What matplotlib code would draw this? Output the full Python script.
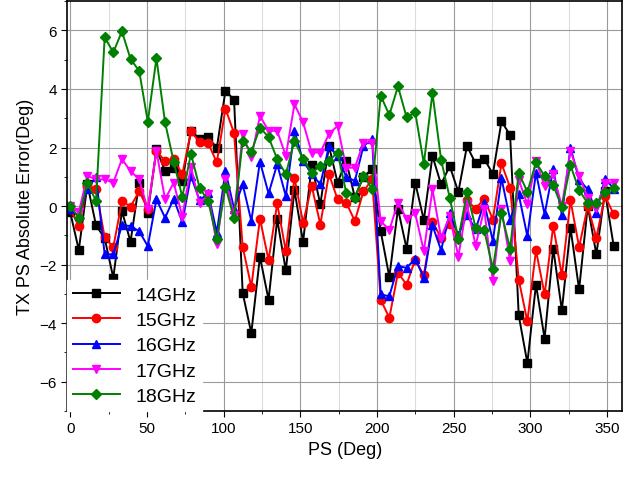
import numpy as np
import matplotlib
matplotlib.use("Agg")
import matplotlib.pyplot as plt
from matplotlib.ticker import MultipleLocator

plt.rcParams['font.family'] = ['Liberation Sans', 'DejaVu Sans']

# phase states, 64 steps of 5.625 deg
ps_deg = [i * 5.625 for i in range(64)]

err_14 = [-0.2, -1.5, 0.74, -0.66, -1.1, -2.45, -0.17, -1.22, 0.8, -0.23,
          1.94, 1.2, 1.3, 0.86, 2.57, 2.3, 2.36, 1.98, 3.94, 3.63,
          -2.97, -4.34, -1.73, -3.2, -0.45, -2.2, 0.55, -1.23, 1.4, 0.06,
          2.05, 0.8, 1.54, 0.3, 1.0, 1.26, -0.86, -2.42, -0.09, -1.45,
          0.8, -0.48, 1.71, 0.74, 1.37, 0.48, 2.05, 1.46, 1.62, 1.09,
          2.89, 2.43, -3.73, -5.36, -2.68, -4.53, -1.45, -3.56, -0.74, -2.85,
          0.0, -1.65, 0.5, -1.35]
err_15 = [-0.1, -0.68, 0.7, 0.57, -1.07, -1.41, 0.17, -0.02, 0.51, -0.1,
          1.88, 1.54, 1.6, 1.09, 2.55, 2.19, 2.15, 1.49, 3.33, 2.49,
          -1.39, -2.76, -0.43, -1.85, 0.09, -1.54, 0.97, -0.57, 0.69, -0.63,
          1.09, 0.23, 0.12, -0.51, 0.5, 0.91, -3.2, -3.82, -2.28, -2.68,
          -1.83, -2.37, -0.55, -1.08, -0.6, -1.1, 0.2, -0.09, 0.25, -0.46,
          1.46, 0.63, -2.51, -3.94, -1.51, -3.02, -0.68, -2.37, 0.2, -1.4,
          0.0, -1.08, 0.35, -0.28]
err_16 = [-0.1, -0.34, 0.6, 1.0, -1.65, -1.65, -0.66, -0.68, -0.86, -1.37,
          0.23, -0.4, 0.25, -0.55, 1.03, 0.2, 0.43, -0.91, 1.2, -0.09,
          0.74, -0.51, 1.52, 0.43, 1.43, 0.34, 2.57, 1.54, 1.1, 0.74,
          2.05, 1.7, 1.0, 0.86, 2.05, 2.28, -3.02, -3.08, -2.05, -2.11,
          -1.8, -2.45, -0.66, -1.51, -0.25, -1.0, -0.3, -0.8, 0.12, -1.2,
          0.95, -0.46, 0.4, -1.03, 1.14, -0.28, 1.26, -0.3, 2.0, 0.9,
          0.57, -0.23, 0.94, 0.6]
err_17 = [0.0, -0.2, 1.03, 0.91, 0.91, 0.8, 1.6, 1.2, 0.91, -0.11,
          1.88, 0.23, 0.8, -0.36, 1.35, 0.09, 0.4, -1.31, 0.91, -0.3,
          2.46, 1.66, 3.08, 2.57, 2.57, 1.71, 3.48, 2.86, 1.83, 1.83,
          2.46, 2.74, 1.31, 1.31, 2.17, 2.17, -0.51, -0.82, 0.12, -0.43,
          -0.25, -1.54, 0.57, -1.08, -0.34, -1.73, 0.06, -1.35, -0.1, -2.57,
          -0.1, -1.88, 0.9, 0.06, 1.54, 0.69, 1.09, 0.0, 1.88, 1.03,
          0.29, -0.05, 0.8, 0.8]
err_18 = [0.0, -0.4, 0.8, 0.17, 5.77, 5.25, 5.97, 5.02, 4.62, 2.88,
          5.05, 2.86, 1.52, 0.31, 1.79, 0.63, 0.17, -1.12, 0.66, -0.42,
          2.23, 1.85, 2.68, 2.36, 1.6, 1.09, 2.23, 1.6, 1.14, 1.37,
          1.54, 1.83, 0.46, 0.29, 1.03, 0.6, 3.77, 3.11, 4.09, 3.03,
          3.2, 1.45, 3.86, 1.58, 0.29, -1.13, 0.47, -0.74, -0.82, -2.14,
          -0.25, -1.45, 1.14, 0.48, 1.49, 1.03, 0.71, -0.03, 1.39, 0.55,
          0.09, 0.09, 0.48, 0.63]

series = [
    ('14GHz', err_14, 'black', 's'),
    ('15GHz', err_15, 'red', 'o'),
    ('16GHz', err_16, 'blue', '^'),
    ('17GHz', err_17, 'magenta', 'v'),
    ('18GHz', err_18, 'green', 'D'),
]

fig = plt.figure(figsize=(6.33, 4.81), dpi=100)
ax = fig.add_axes([0.106, 0.1435, 0.877, 0.852])

for label, vals, color, marker in series:
    ms = 5.5 if marker == 'D' else 6
    ax.plot(ps_deg, vals, color=color, marker=marker, markersize=ms,
            linewidth=1.4, label=label)

ax.set_xlim(-2, 360)
ax.set_ylim(-7, 7)
ax.xaxis.set_major_locator(MultipleLocator(50))
ax.xaxis.set_minor_locator(MultipleLocator(25))
ax.yaxis.set_major_locator(MultipleLocator(2))
ax.yaxis.set_minor_locator(MultipleLocator(1))
ax.grid(True, which='major', color='#9a9a9a', linewidth=0.8)
ax.grid(True, which='minor', axis='x', color='#dcdcdc', linewidth=0.8)
ax.set_axisbelow(True)
ax.tick_params(axis='both', which='major', labelsize=11, direction='out', length=4)
ax.tick_params(axis='both', which='minor', direction='out', length=2)
for sp in ax.spines.values():
    sp.set_linewidth(1.2)

ax.set_xlabel('PS (Deg)', fontsize=13)
ax.set_ylabel('TX PS Absolute Error(Deg)', fontsize=13)

leg = ax.legend(loc='lower left', fontsize=14, frameon=True, fancybox=False,
                borderaxespad=0.0, handlelength=2.4, labelspacing=0.4,
                borderpad=0.3)
leg.get_frame().set_edgecolor('white')
leg.get_frame().set_alpha(1.0)

fig.savefig('out.png', dpi=100)
